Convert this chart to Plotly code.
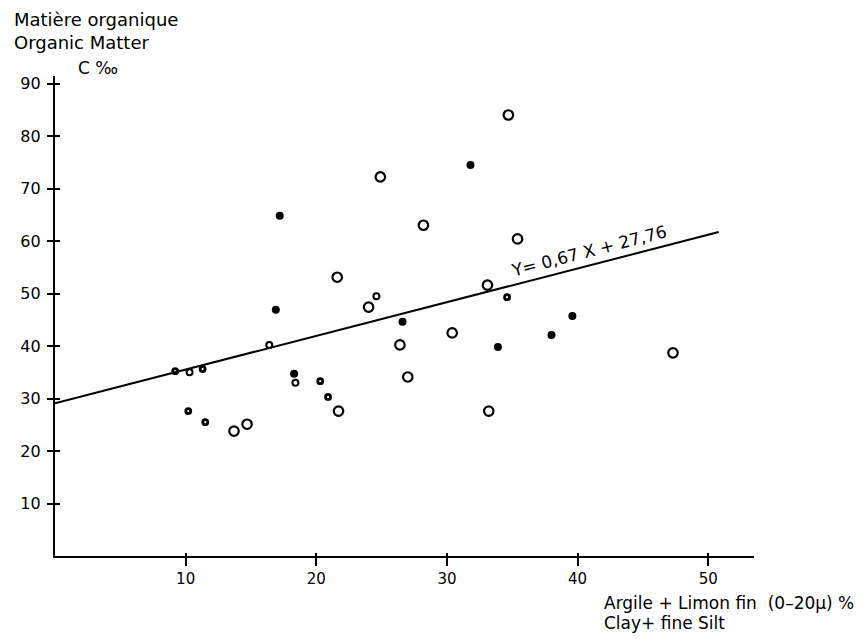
import plotly.graph_objects as go

# ---- data ----
open_x = [13.7, 14.7, 21.7, 21.6, 24.0, 24.9, 26.4, 27.0, 28.2, 30.4, 33.1, 33.2, 34.7, 35.4, 47.3]
open_y = [23.8, 25.1, 27.6, 53.1, 47.4, 72.2, 40.2, 34.1, 63.0, 42.5, 51.6, 27.6, 84.0, 60.4, 38.7]

filled_x = [17.2, 31.8, 16.9, 18.3, 33.9, 38.0, 39.6, 26.6]
filled_y = [64.8, 74.5, 46.9, 34.7, 39.8, 42.1, 45.7, 44.6]

small_dark_x = [9.2, 11.3, 10.2, 11.5, 20.3, 20.9, 34.6]
small_dark_y = [35.2, 35.6, 27.6, 25.5, 33.3, 30.3, 49.3]

small_open_x = [10.3, 16.4, 18.4, 24.6]
small_open_y = [35.0, 40.2, 33.0, 49.5]

line_x = [0, 50.8]
line_y = [29.1, 61.7]

x_ticks = [10, 20, 30, 40, 50]
y_ticks = [10, 20, 30, 40, 50, 60, 70, 80, 90]
x_range = [0, 53.5]
y_range = [0, 91.43]

FONT = "DejaVu Sans"

fig = go.Figure()

fig.add_trace(go.Scatter(x=line_x, y=line_y, mode="lines",
                         line=dict(color="black", width=2), showlegend=False))
fig.add_trace(go.Scatter(x=open_x, y=open_y, mode="markers",
                         marker=dict(symbol="circle-open", size=9.5, color="black",
                                     line=dict(width=2.2, color="black")),
                         showlegend=False))
fig.add_trace(go.Scatter(x=filled_x, y=filled_y, mode="markers",
                         marker=dict(symbol="circle", size=8, color="black"),
                         showlegend=False))
fig.add_trace(go.Scatter(x=small_dark_x, y=small_dark_y, mode="markers",
                         marker=dict(symbol="circle-open", size=5, color="black",
                                     line=dict(width=2.8, color="black")),
                         showlegend=False))
fig.add_trace(go.Scatter(x=small_open_x, y=small_open_y, mode="markers",
                         marker=dict(symbol="circle-open", size=6, color="black",
                                     line=dict(width=2, color="black")),
                         showlegend=False))
# invisible trace to carry the overlay axes (inner tick halves)
fig.add_trace(go.Scatter(x=[x_range[0]], y=[y_range[0]], xaxis="x2", yaxis="y2",
                         mode="markers", marker=dict(opacity=0), showlegend=False,
                         hoverinfo="skip"))

axis_common = dict(showgrid=False, zeroline=False, color="black")

fig.update_layout(
    width=867, height=644,
    margin=dict(l=55, r=113, t=76, b=88),
    paper_bgcolor="white", plot_bgcolor="white",
    font=dict(family=FONT, color="black", size=16),
    xaxis=dict(range=x_range, tickvals=x_ticks, ticks="outside", ticklen=8,
               tickwidth=1.5, tickcolor="black", showline=True, linecolor="black",
               linewidth=2, tickfont=dict(family=FONT, size=15, color="black"),
               **axis_common),
    yaxis=dict(range=y_range, tickvals=y_ticks, ticks="outside", ticklen=6,
               tickwidth=1.5, tickcolor="black", showline=True, linecolor="black",
               linewidth=2.4, ticklabelstandoff=3,
               tickfont=dict(family=FONT, size=16, color="black"),
               **axis_common),
    xaxis2=dict(range=x_range, tickvals=x_ticks, ticks="inside", ticklen=3,
                tickwidth=1.5, tickcolor="black", showticklabels=False,
                overlaying="x", anchor="y", side="bottom", showline=False,
                **axis_common),
    yaxis2=dict(range=y_range, tickvals=y_ticks, ticks="inside", ticklen=5,
                tickwidth=1.5, tickcolor="black", showticklabels=False,
                overlaying="y", anchor="x", side="left", showline=False,
                **axis_common),
)

def px_x(p):
    return (p - 55) / 699.0

def px_y(p):
    return (556 - p) / 480.0

annotations = [
    dict(text="Matière organique<br>Organic Matter", x=px_x(12), y=px_y(7),
         xanchor="left", yanchor="top", align="left", font=dict(size=18)),
    dict(text="C ‰", x=px_x(98), y=px_y(68), xanchor="center", yanchor="middle",
         font=dict(size=17)),
    dict(text="Y= 0,67 X + 27,76", x=px_x(589), y=px_y(251), xanchor="center",
         yanchor="middle", textangle=-14.5, font=dict(size=17)),
    dict(text="Argile + Limon fin  (0–20µ) %", x=px_x(602), y=px_y(603),
         xanchor="left", yanchor="middle", font=dict(size=17)),
    dict(text="Clay+ fine Silt", x=px_x(602), y=px_y(623),
         xanchor="left", yanchor="middle", font=dict(size=17)),
]
for a in annotations:
    a.update(xref="paper", yref="paper", showarrow=False)
fig.update_layout(annotations=annotations)

fig.write_html("out.html", config={"displayModeBar": False},
               post_script="document.body.style.margin='0';document.body.style.overflow='hidden';")
